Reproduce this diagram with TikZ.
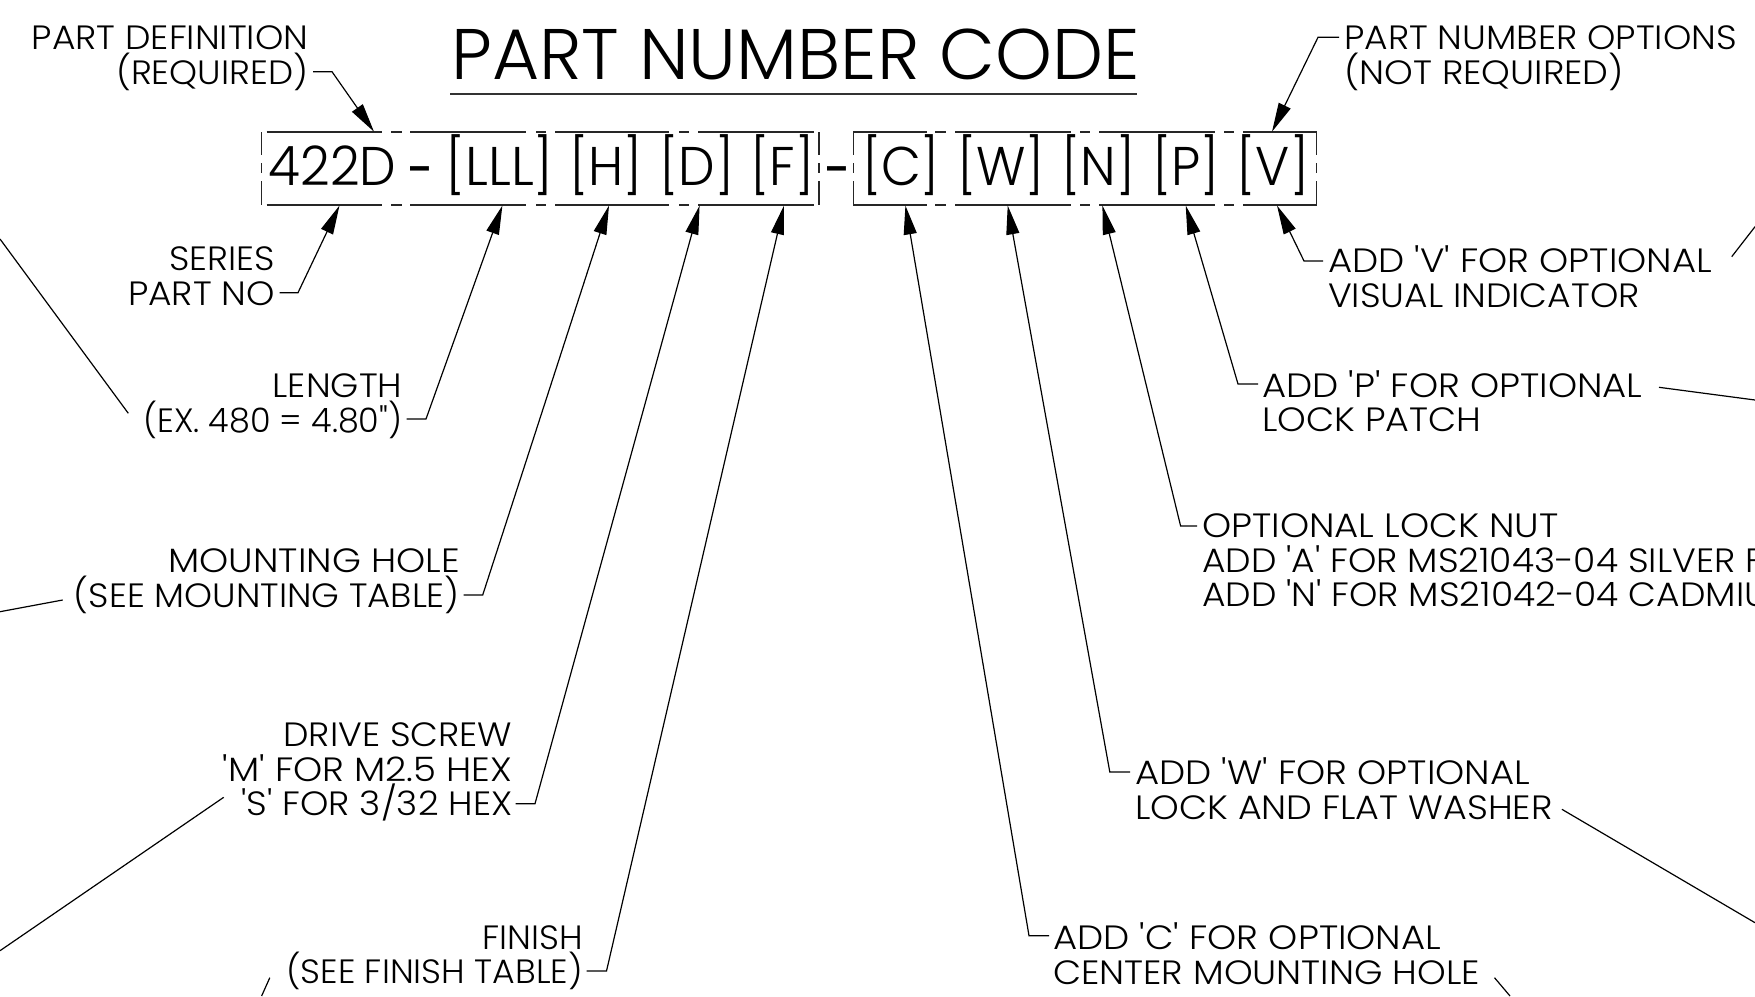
\documentclass[tikz,border=0pt]{standalone}
\usepackage{fontspec}
\newfontfamily\lblfont{Poppins Light}[FakeStretch=1.07]
\newfontfamily\lw{Poppins Light}[FakeStretch=1.10]
\newfontfamily\ly{Poppins Light}[FakeStretch=1.082]
\newfontfamily\lm{Poppins Light}[FakeStretch=1.055]
\newfontfamily\lf{Poppins Light}[FakeStretch=1.03]
\newfontfamily\lx{Poppins Light}[FakeStretch=0.99]
\newfontfamily\titlefont{Poppins Light}[FakeStretch=1.01]
\newfontfamily\codefont{Poppins Light}[FakeStretch=0.95]
\newfontfamily\codewide{Poppins Light}[FakeStretch=0.995]
\newfontfamily\dashfont{Poppins Medium}
\usetikzlibrary{arrows.meta}
\tikzset{
  lbl/.style={inner sep=0pt,font=\lblfont\fontsize{33.7}{34.5}\selectfont},
  lblR/.style={lbl,align=right,anchor=base east},
  lblL/.style={lbl,align=left,anchor=base west},
  codetxt/.style={inner sep=0pt,anchor=base,font=\codefont\fontsize{54.5}{56}\selectfont},
  dashtxt/.style={inner sep=0pt,anchor=base,font=\dashfont\fontsize{46}{48}\selectfont},
  leader/.style={line width=1.2pt,-{Triangle[length=29pt,width=13pt]}},
  cutline/.style={line width=1.2pt},
  framepen/.style={line width=1.5pt,black!85}
}
\begin{document}
\begin{tikzpicture}[x=1pt,y=-1pt]
\useasboundingbox (0,0) rectangle (1755,996);
\clip (0,0) rectangle (1755,996);
% title
\node[inner sep=0pt,anchor=base,font=\titlefont\fontsize{71.6}{72}\selectfont] (title) at (795.5,79) {PART NUMBER CODE};
\draw[line width=1.8pt,black!80] (450,94) -- (1137,94);
% frame 1
\foreach \a/\b in {266.5/381.6,391/401.6,410/526,536/546,555/669,679/688.6,698/814}{
  \draw[framepen] (\a,132) -- (\b,132);
  \draw[framepen] (\a,205) -- (\b,205);
}
\foreach \x in {261.6,819}{
  \foreach \a/\b in {132/155,163/173,181/205}{\draw[framepen] (\x,\a) -- (\x,\b);}
}
% frame 2
\foreach \a/\b in {853.4/927,935/946,955/1071,1080/1090,1099/1215,1224/1234,1243/1316.5}{
  \draw[framepen] (\a,132) -- (\b,132);
  \draw[framepen] (\a,205) -- (\b,205);
}
\foreach \x in {853.4,1316.5}{
  \foreach \a/\b in {132/155,163/173,181/205}{\draw[framepen] (\x,\a) -- (\x,\b);}
}
% code
\node[codetxt] (cS) at (332.5,185) {422D};
\node[dashtxt] (d1) at (419.5,185) {-};
\node[codetxt] (cL) at (499.6,185) {\codewide [LLL]};
\node[codetxt] (cH) at (606,185) {[H]};
\node[codetxt] (cD) at (697,185) {[D]};
\node[codetxt] (cF) at (782.5,185) {[F]};
\node[dashtxt] (d2) at (837,185) {-};
\node[codetxt] (cC) at (901,185) {[C]};
\node[codetxt] (cW) at (1001,185) {[W]};
\node[codetxt] (cN) at (1098.5,185) {[N]};
\node[codetxt] (cP) at (1186,185) {[P]};
\node[codetxt] (cV) at (1273,185) {[V]};
% labels (anchor = base of last line)
\node[lblR] (lDef) at (308.5,84) {PART DEFINITION\\{\lm (REQUIRED)}};
\node[lblL] (lOpt) at (1344,84) {PART NUMBER OPTIONS\\{\ly (NOT REQUIRED)}};
\node[lblR] (lSer) at (275,305) {{\lm SERIES}\\PART NO};
\node[lblR] (lLen) at (402.5,432) {LENGTH\\{\lx (EX. 480 = 4.80")}};
\node[lblR] (lMnt) at (460,607) {{\lw MOUNTING HOLE}\\{\lm (SEE MOUNTING TABLE)}};
\node[lblR] (lDrv) at (512.5,815.7) {DRIVE SCREW\\{\lw 'M' FOR M2.5 HEX}\\'S' FOR 3/32 HEX};
\node[lblR] (lFin) at (583,983.5) {{\lf FINISH}\\{\lf (SEE FINISH TABLE)}};
\node[lblL] (lV) at (1328,307) {{\lw ADD 'V' FOR OPTIONAL}\\{\lblfont VISUAL INDICATOR}};
\node[lblL] (lP) at (1262,431.7) {{\lw ADD 'P' FOR OPTIONAL}\\{\ly LOCK PATCH}};
\node[lblL] (lN) at (1202,606.7) {{\lw OPTIONAL LOCK NUT}\\ADD 'A' FOR MS21043-04 SILVER F\\ADD 'N' FOR MS21042-04 CADMIU};
\node[lblL] (lW) at (1135,819.3) {{\lw ADD 'W' FOR OPTIONAL}\\{\ly LOCK AND FLAT WASHER}};
\node[lblL] (lC) at (1053,984) {{\lw ADD 'C' FOR OPTIONAL}\\{\ly CENTER MOUNTING HOLE}};
% leader geometry
\coordinate (eDef) at (332,71.7); \coordinate (tDef) at (374,131.7);
\coordinate (eOpt) at (1318,37.3); \coordinate (tOpt) at (1272,131.7);
\coordinate (eSer) at (298,292.7); \coordinate (tSer) at (339.5,205.5);
\coordinate (eLen) at (426,419); \coordinate (tLen) at (502.4,205.5);
\coordinate (eMnt) at (482.7,595); \coordinate (tMnt) at (609,205.5);
\coordinate (eDrv) at (535,803.7); \coordinate (tDrv) at (699.6,205.5);
\coordinate (eFin) at (606.5,971); \coordinate (tFin) at (784,205.5);
\coordinate (eC) at (1029,935.7); \coordinate (tC) at (905.4,205.5);
\coordinate (eW) at (1109.8,772); \coordinate (tW) at (1007.7,205.5);
\coordinate (eN) at (1180.6,526); \coordinate (tN) at (1102.4,205.5);
\coordinate (eP) at (1238,384); \coordinate (tP) at (1185.7,205.5);
\coordinate (eV) at (1304,261); \coordinate (tV) at (1277,205.5);
% leaders
\draw[leader] ([xshift=4.5pt]lDef.east |- eDef) -- (eDef) -- (tDef);
\draw[leader] ([xshift=-5pt]lOpt.west |- eOpt) -- (eOpt) -- (tOpt);
\draw[leader] ([xshift=4.5pt]lSer.east |- eSer) -- (eSer) -- (tSer);
\draw[leader] ([xshift=4pt]lLen.east |- eLen) -- (eLen) -- (tLen);
\draw[leader] ([xshift=3.5pt]lMnt.east |- eMnt) -- (eMnt) -- (tMnt);
\draw[leader] ([xshift=3pt]lDrv.east |- eDrv) -- (eDrv) -- (tDrv);
\draw[leader] ([xshift=3.5pt]lFin.east |- eFin) -- (eFin) -- (tFin);
\draw[leader] ([xshift=-4pt]lC.west |- eC) -- (eC) -- (tC);
\draw[leader] ([xshift=-5pt]lW.west |- eW) -- (eW) -- (tW);
\draw[leader] ([xshift=-5pt]lN.west |- eN) -- (eN) -- (tN);
\draw[leader] ([xshift=-4pt]lP.west |- eP) -- (eP) -- (tP);
\draw[leader] ([xshift=-5pt]lV.west |- eV) -- (eV) -- (tV);
% leader lines running off the picture
\draw[cutline] (0,239) -- (128.3,413.3);
\draw[cutline] (0,611.7) -- (62.7,600);
\draw[cutline] (223.7,797.3) -- (0,950.7);
\draw[cutline] (269.8,977.7) -- (261.6,996);
\draw[cutline] (1755,226.7) -- (1731.7,256.7);
\draw[cutline] (1659,387.3) -- (1755,400);
\draw[cutline] (1561.9,809.3) -- (1755,922.7);
\draw[cutline] (1494.5,977.7) -- (1510,996);
\end{tikzpicture}
\end{document}
